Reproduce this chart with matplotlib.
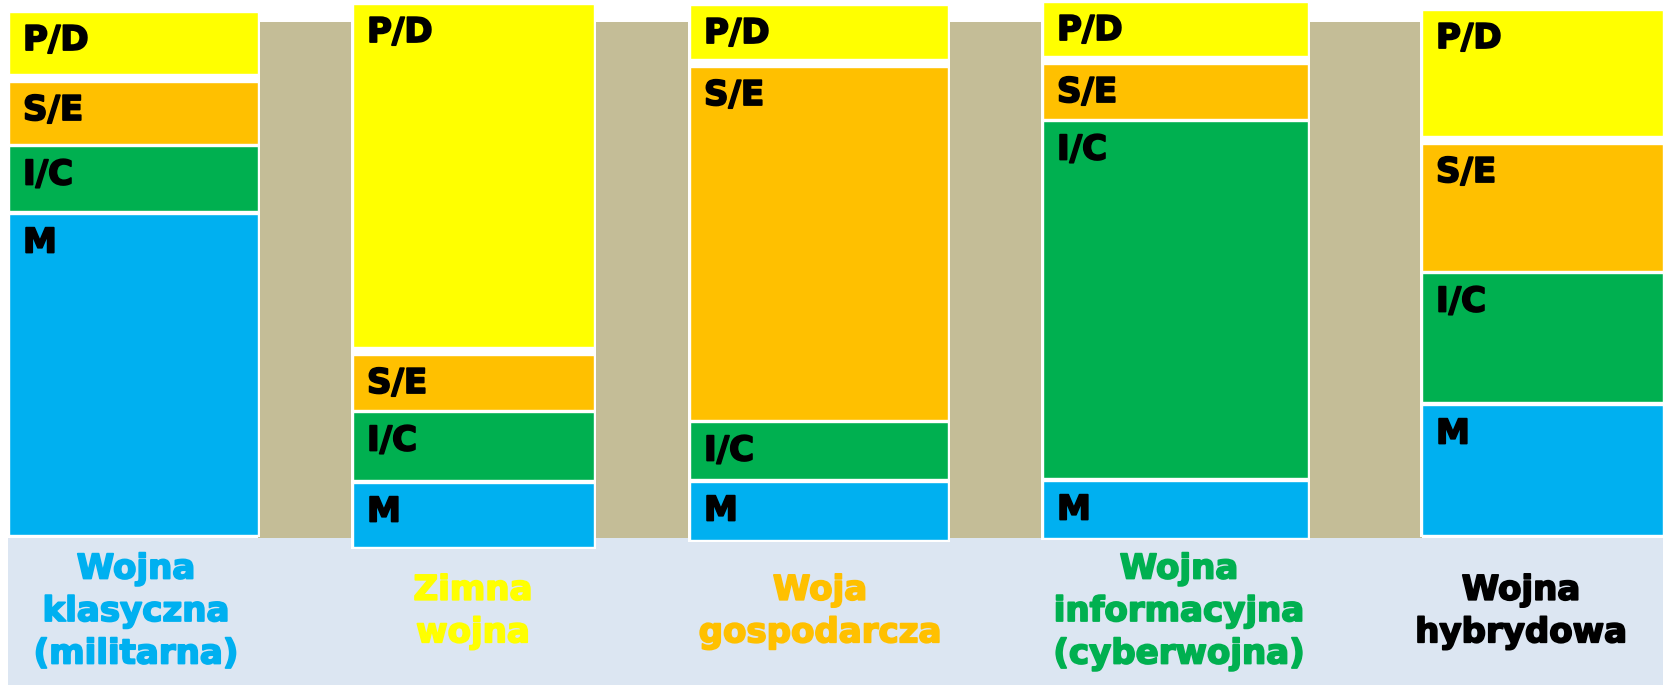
import matplotlib
matplotlib.use("Agg")
import matplotlib.pyplot as plt
from matplotlib.patches import Rectangle
import matplotlib.patheffects as pe

# ---- data -------------------------------------------------------------
categories = [
    ["Wojna", "klasyczna", "(militarna)"],
    ["Zimna", "wojna"],
    ["Woja", "gospodarcza"],
    ["Wojna", "informacyjna", "(cyberwojna)"],
    ["Wojna", "hybrydowa"],
]
segments = ["M", "I/C", "S/E", "P/D"]
m_vals = [321, 64, 58, 57, 130]
ic_vals = [65, 68, 57, 357, 129]
se_vals = [62, 55, 353, 55, 127]
pd_vals = [62, 343, 54, 54, 126]

# ---- layout / style ---------------------------------------------------
W, H = 1665, 685
base_y = [535, 547, 540, 538, 535]
col_left = [9, 353, 690, 1043, 1422]
col_right = [258, 594, 948, 1308, 1663]
label_x = [136, 473, 820, 1179, 1521]
gaps = [3, 2.5, 8]
seg_colors = ["#00B0F0", "#00B050", "#FFC000", "#FFFF00"]
label_colors = ["#00B0F0", "#FFFF00", "#FFC000", "#00B050", "#000000"]
FONT = "DejaVu Sans"

fig = plt.figure(figsize=(W / 100, H / 100), dpi=100)
ax = fig.add_axes([0, 0, 1, 1])
ax.set_xlim(0, W)
ax.set_ylim(H, 0)
ax.axis("off")

# background bands
ax.add_patch(Rectangle((8, 538), 1655, 147, facecolor="#DCE6F2", edgecolor="none", zorder=0))
ax.add_patch(Rectangle((258, 22), 1422 - 258, 516, facecolor="#C4BD97", edgecolor="none", zorder=0.5))

values = [m_vals, ic_vals, se_vals, pd_vals]
for c in range(len(categories)):
    left, right = col_left[c], col_right[c]
    width = right - left
    center = (left + right) / 2
    y = base_y[c]
    tops = []
    for s in range(len(segments)):
        h = values[s][c]
        top = y - h
        ax.bar(center, -h, width=width, bottom=y, color=seg_colors[s],
               edgecolor="white", linewidth=1.0, zorder=2)
        tops.append(top)
        if s < len(gaps):
            y = top - gaps[s]
    top_all = tops[-1]
    ax.add_patch(Rectangle((left - 2, top_all - 2), width + 4, base_y[c] - top_all + 4,
                           facecolor="white", edgecolor="none", zorder=1))
    for s in range(len(segments)):
        ax.text(left + 14, tops[s] + 12.5, segments[s], ha="left", va="top",
                fontsize=24.5, fontweight="bold", family=FONT, color="black", zorder=3,
                path_effects=[pe.withStroke(linewidth=1.3, foreground="black")])
    lines = categories[c]
    n = len(lines)
    for i, line in enumerate(lines):
        yb = 621 + (i - (n - 1) / 2) * 42.5
        ax.text(label_x[c], yb, line, ha="center", va="baseline", fontsize=24.5,
                fontweight="bold", family=FONT, color=label_colors[c], zorder=3,
                path_effects=[pe.withStroke(linewidth=1.3, foreground=label_colors[c])])

fig.savefig("out.png", dpi=100, facecolor="white")
